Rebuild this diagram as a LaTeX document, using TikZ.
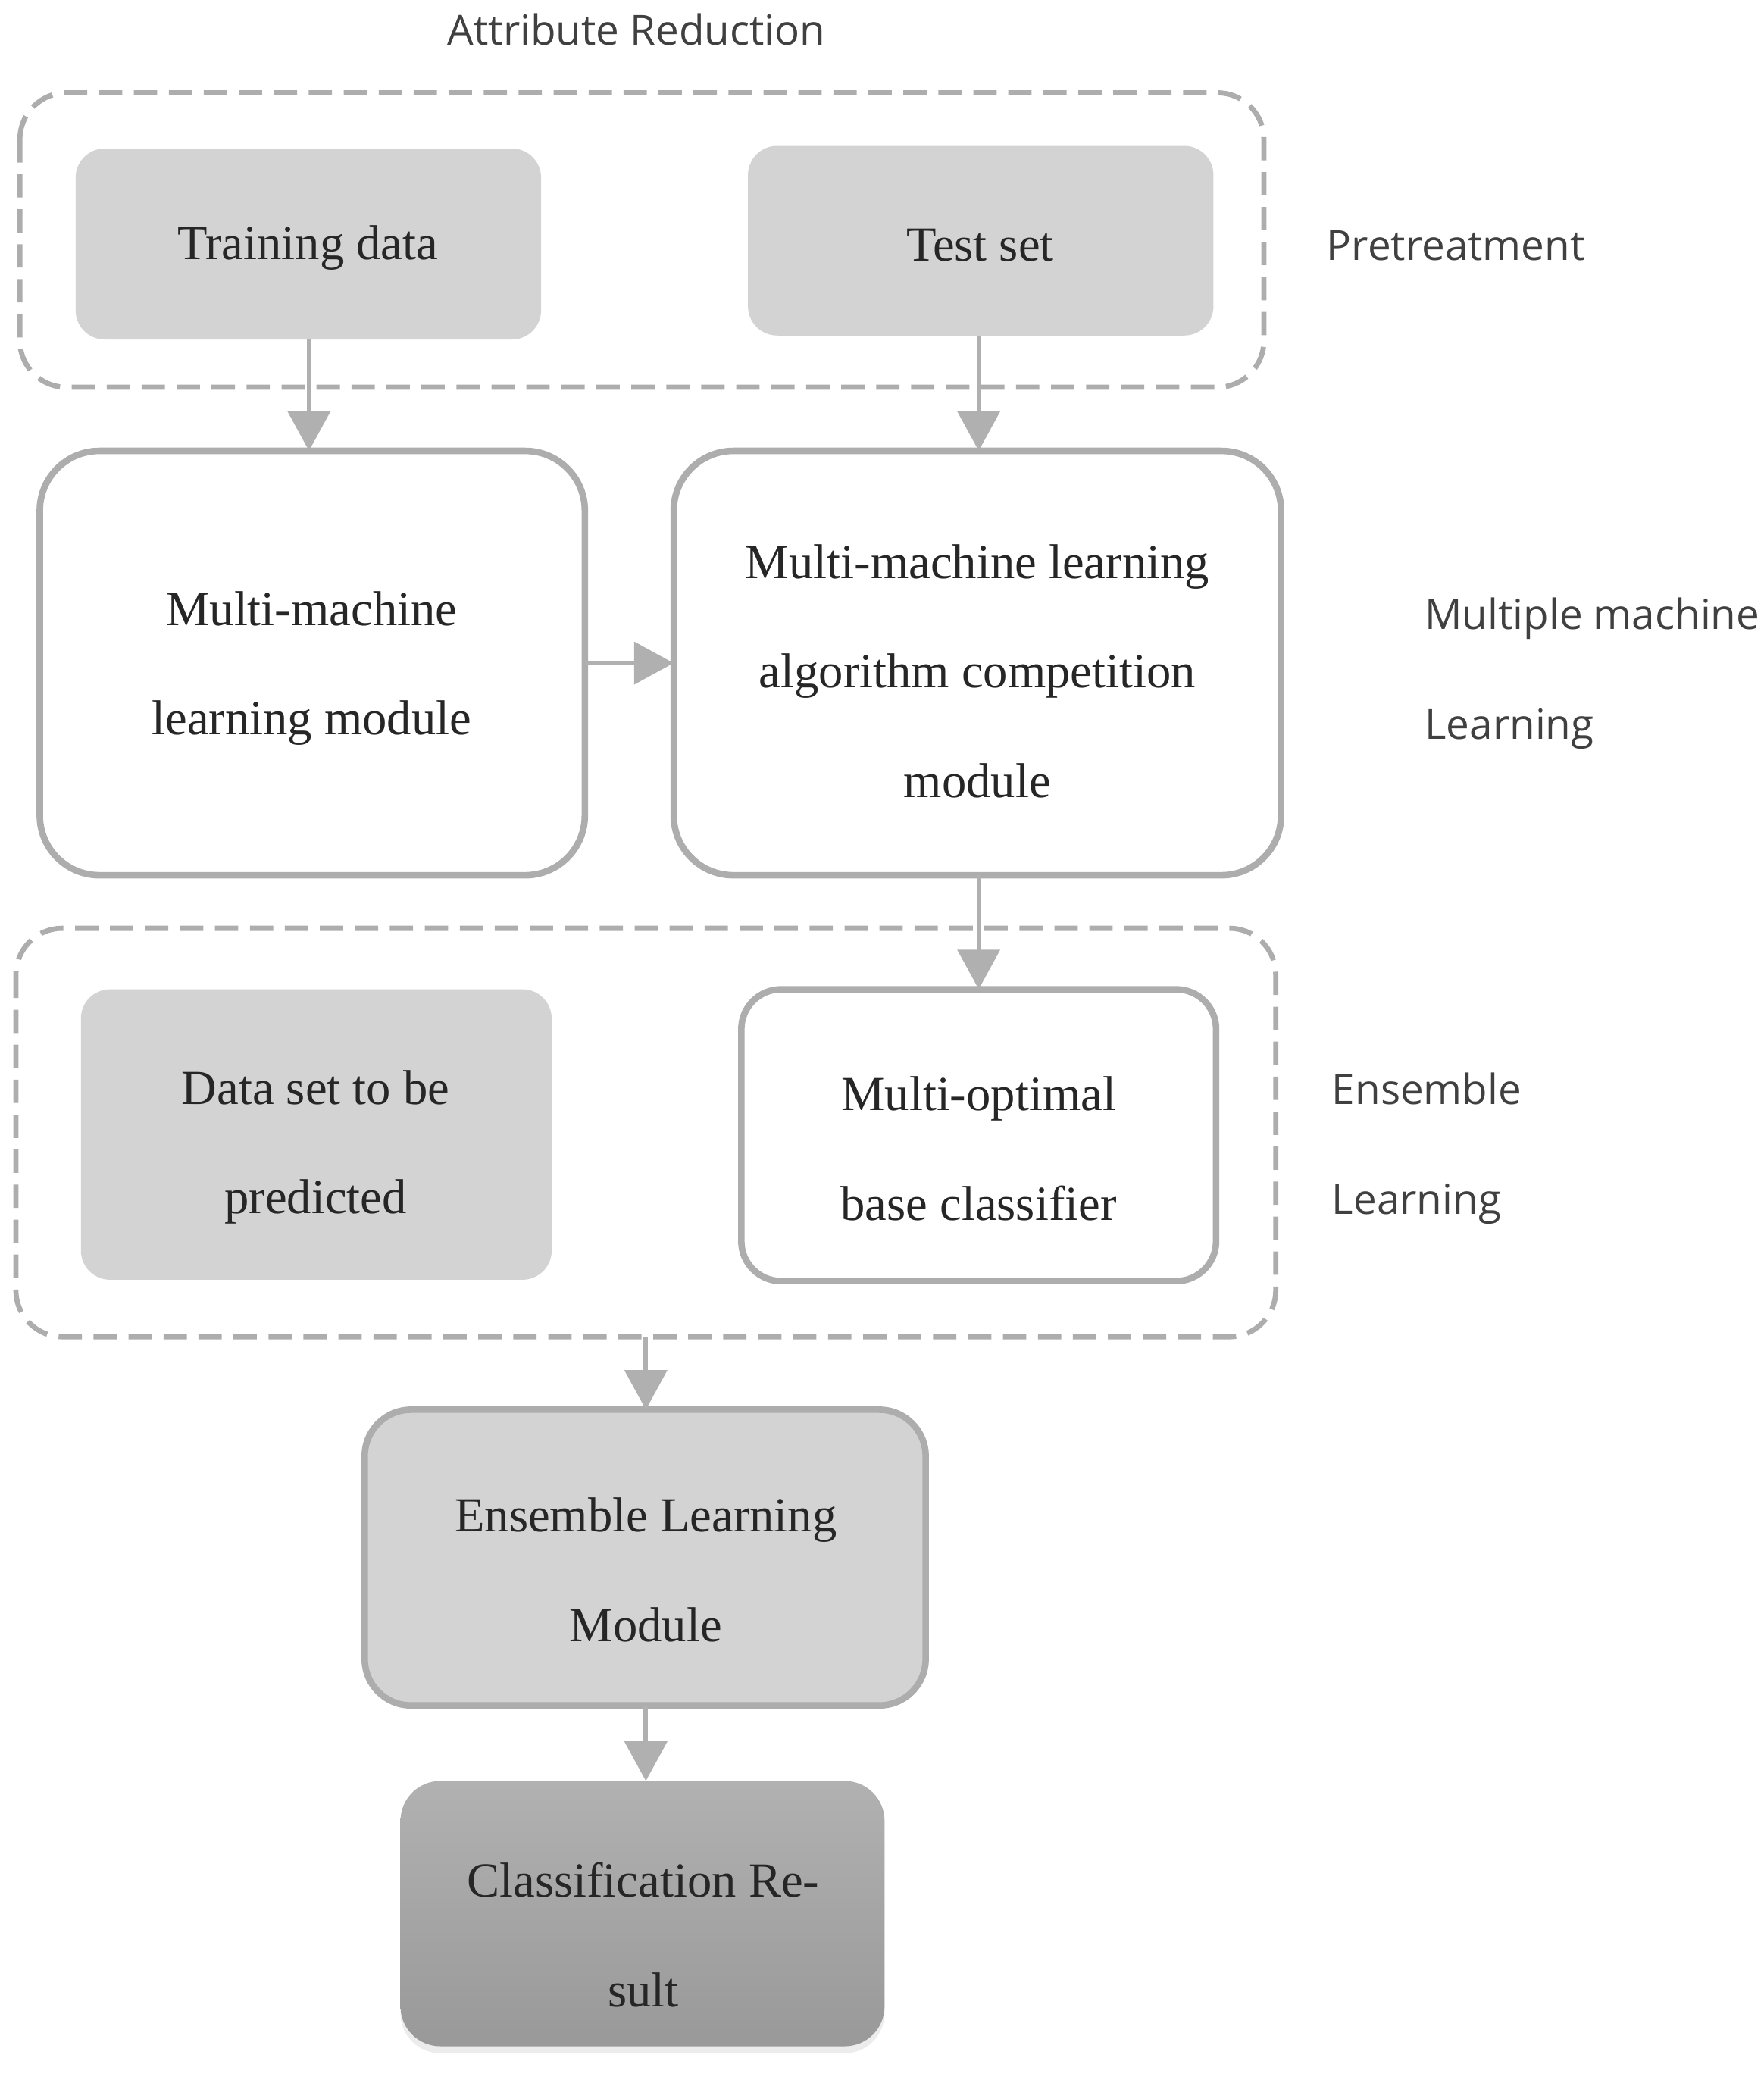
\documentclass[tikz,border=0pt]{standalone}
\usepackage{fontspec}
\setmainfont{Liberation Serif}
\newfontfamily\sidefont{Open Sans}
\usetikzlibrary{arrows.meta,shadows}
\definecolor{lgray}{HTML}{D3D3D3}
\definecolor{bgray}{HTML}{ADADAD}
\definecolor{agray}{HTML}{B0B0B0}
\begin{document}
\begin{tikzpicture}[x=0.01cm,y=-0.01cm,
  dbox/.style={draw=bgray,line width=1.1pt,dash pattern=on 5pt off 2.5pt,rounded corners=0.35cm},
  gbox/.style={fill=lgray,draw=none,rounded corners=0.22cm},
  wbox/.style={fill=white,draw=bgray,line width=1.4pt,rounded corners=0.45cm},
  txt/.style={align=center,font=\fontsize{10.5}{23.5}\selectfont,text=black!85},
  side/.style={anchor=west,font=\sidefont\fontsize{8.9}{23.5}\selectfont,text=black!75},
  arr/.style={draw=agray,line width=1pt,-{Triangle[length=8.5pt,width=9pt]}}]
\useasboundingbox (0,0) rectangle (1330,1573);
\node[font=\sidefont\fontsize{8.9}{12}\selectfont,text=black!75] (title) at (480,22) {Attribute Reduction};
\draw[dbox] (15,70) rectangle (953,292);
\coordinate (d1b) at (487,292);
\draw[gbox] (57,112) rectangle (408,256);
\node[txt] (train) at (232,187) {Training data};
\coordinate (trainb) at (233,256);
\draw[gbox] (564,110) rectangle (915,253);
\node[txt] (test) at (739,185) {Test set};
\coordinate (testb) at (738,253);
\node[side] (pre) at (988,185) {Pretreatment};
\draw[wbox] (30,340) rectangle (441,660);
\node[txt] (mml) at (235,504) {Multi-machine\\learning module};
\draw[wbox] (508,340) rectangle (966,660);
\node[txt] (comp) at (737,506) {Multi-machine learning\\algorithm competition\\module};
\coordinate (mmlt) at (233,340);
\coordinate (compt) at (738,340);
\coordinate (mmlr) at (441,500);
\coordinate (compl) at (508,500);
\coordinate (compb) at (738,660);
\draw[arr] (trainb) -- (mmlt);
\draw[arr] (testb) -- (compt);
\draw[arr] (mmlr) -- (compl);
\node[side,align=left] (mul) at (1062,508) {Multiple machine\\Learning};
\draw[dbox] (12,700) rectangle (962,1008);
\draw[gbox] (61,746) rectangle (416,965);
\node[txt] (data) at (238,865) {Data set to be\\predicted};
\draw[wbox,rounded corners=0.3cm] (559,746) rectangle (917,966);
\node[txt] (opt) at (738,866) {Multi-optimal\\base classifier};
\coordinate (optt) at (738,746);
\draw[arr] (compb) -- (optt);
\node[side,align=left] (ens) at (992,866) {Ensemble\\Learning};
\draw[fill=lgray,draw=bgray,line width=1.4pt,rounded corners=0.35cm] (275,1063) rectangle (698,1286);
\node[txt] (el) at (487,1184) {Ensemble Learning\\Module};
\coordinate (elt) at (487,1063);
\coordinate (elb) at (487,1286);
\draw[arr] (d1b |- 0,1008) -- (elt);
\draw[rounded corners=0.3cm,top color=bgray!95,bottom color=black!40,draw=none,drop shadow={opacity=0.15,shadow xshift=0pt,shadow yshift=-1.5pt}] (302,1343) rectangle (667,1543);
\node[txt] (cls) at (485,1459) {Classification Re-\\sult};
\coordinate (clst) at (487,1343);
\draw[arr] (elb) -- (clst);
\end{tikzpicture}
\end{document}
